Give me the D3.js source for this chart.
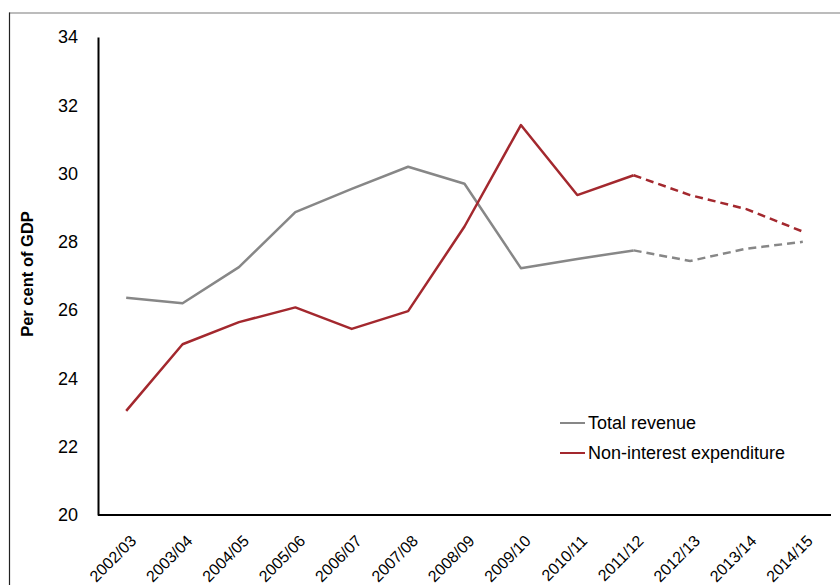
<!DOCTYPE html>
<html><head><meta charset="utf-8">
<script src="https://cdn.jsdelivr.net/npm/d3@7"></script>
<style>body{margin:0;background:#fff}svg{display:block}text{font-family:"Liberation Sans",Arial,sans-serif}</style>
</head><body><svg id="c" width="840" height="585"></svg>
<script>
const categories = ["2002/03","2003/04","2004/05","2005/06","2006/07","2007/08","2008/09","2009/10","2010/11","2011/12","2012/13","2013/14","2014/15"];
const revenue = [26.36,26.2,27.26,28.87,29.55,30.2,29.7,27.23,27.5,27.75,27.44,27.8,28.0];
const expenditure = [23.05,25.0,25.65,26.08,25.45,25.97,28.45,31.42,29.37,29.95,29.37,28.96,28.3];
const yTicks = [20,22,24,26,28,30,32,34];
const forecastStart = 9; // index of 2011/12, dashed afterwards

const svg = d3.select("#c");
const mLeft = 98, mRight = 831, mTop = 37, mBottom = 515;
const x = d3.scaleBand().domain(categories).range([mLeft, mRight]);
const y = d3.scaleLinear().domain([20,34]).range([mBottom, mTop]);
const cx = d => x(d) + x.bandwidth()/2;
const font = "'Liberation Sans', Arial, sans-serif";

// frame
svg.append("line").attr("x1",9).attr("x2",840).attr("y1",13).attr("y2",13).attr("stroke","#a6a6a6").attr("stroke-width",1.5);
svg.append("line").attr("x1",9.5).attr("x2",9.5).attr("y1",12.5).attr("y2",585).attr("stroke","#222").attr("stroke-width",1.2);

// y axis
const ya = svg.append("g").attr("transform",`translate(${mLeft},0)`)
  .call(d3.axisLeft(y).tickValues(yTicks).tickSize(0).tickPadding(20));
ya.select(".domain").attr("stroke","#000").attr("stroke-width",2);
ya.selectAll("text").attr("font-size",18).attr("fill","#000").attr("font-family",font);

// x axis
const xa = svg.append("g").attr("transform",`translate(0,${mBottom})`)
  .call(d3.axisBottom(x).tickSize(0).tickPadding(0));
xa.select(".domain").attr("stroke","#000").attr("stroke-width",2).attr("d",`M${mLeft},0H${mRight}`);
xa.selectAll(".tick text").attr("font-size",16).attr("fill","#000")
  .attr("font-family",font)
  .attr("text-anchor","end").attr("dy",0)
  .attr("transform","translate(11,27) rotate(-45)");

// y title
svg.append("text").attr("transform","translate(33,274) rotate(-90)")
  .attr("text-anchor","middle").attr("font-size",16.5).attr("font-weight","bold")
  .attr("font-family",font).text("Per cent of GDP");

const line = d3.line().x(d=>cx(categories[d.i])).y(d=>y(d.v));
function drawSeries(vals, color){
  const pts = vals.map((v,i)=>({i,v}));
  svg.append("path").datum(pts.slice(0,forecastStart+1)).attr("d",line)
    .attr("fill","none").attr("stroke",color).attr("stroke-width",2.5).attr("stroke-linejoin","round");
  svg.append("path").datum(pts.slice(forecastStart)).attr("d",line)
    .attr("fill","none").attr("stroke",color).attr("stroke-width",2.5).attr("stroke-dasharray","8,5");
}
drawSeries(revenue, "#878787");
drawSeries(expenditure, "#a3282e");

// legend
const legend = [["Total revenue","#878787"],["Non-interest expenditure","#a3282e"]];
legend.forEach((l,i)=>{
  const ly = 423 + i*30;
  svg.append("line").attr("x1",560).attr("x2",585).attr("y1",ly).attr("y2",ly).attr("stroke",l[1]).attr("stroke-width",2);
  svg.append("text").attr("x",588).attr("y",ly+6).attr("font-size",18).attr("fill","#000")
    .attr("font-family",font).text(l[0]);
});
</script></body></html>
